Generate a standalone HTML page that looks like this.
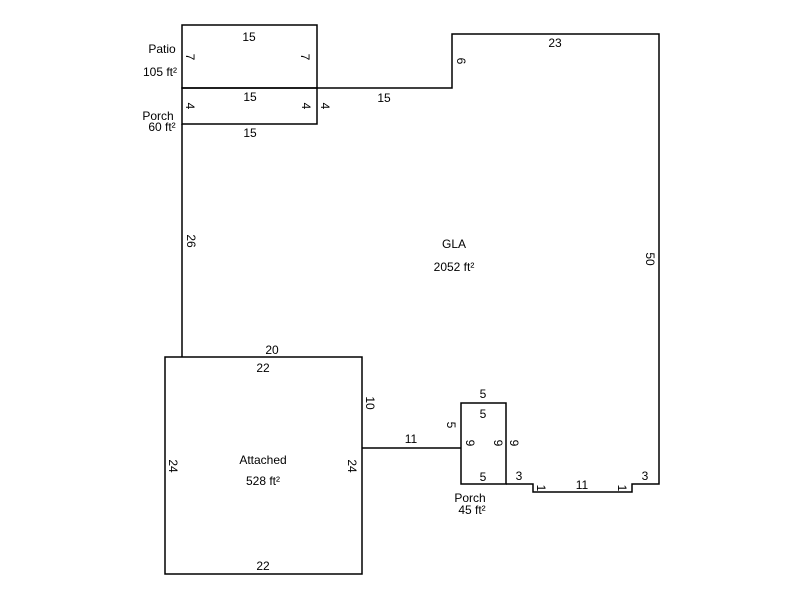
<!DOCTYPE html>
<html><head><style>body{margin:0;background:#fff}svg{display:block}text{font-family:"Liberation Sans",Arial,sans-serif;font-size:12px;fill:#000}</style></head>
<body>
<svg width="800" height="600" viewBox="0 0 800 600" xmlns="http://www.w3.org/2000/svg">
<g fill="none" stroke="#000" stroke-width="1.5">
<rect x="182" y="25" width="135" height="63"/>
<rect x="182" y="88" width="135" height="36"/>
<polyline points="317,88 452,88 452,34 659,34 659,484 632,484 632,492 533,492 533,484 506,484"/>
<line x1="182" y1="124" x2="182" y2="357"/>
<rect x="165" y="357" width="197" height="217"/>
<rect x="461" y="403" width="45" height="81"/>
<line x1="362" y1="448" x2="461" y2="448"/>
</g>
<g text-anchor="middle">
<text x="249" y="41">15</text>
<text x="250" y="101">15</text>
<text x="250" y="137">15</text>
<text x="384" y="102">15</text>
<text x="555" y="47">23</text>
<text x="454" y="248">GLA</text>
<text x="454" y="271">2052 ft²</text>
<text x="272" y="354">20</text>
<text x="263" y="372">22</text>
<text x="263" y="570">22</text>
<text x="263" y="464">Attached</text>
<text x="263" y="485">528 ft²</text>
<text x="411" y="443">11</text>
<text x="483" y="398">5</text>
<text x="483" y="418">5</text>
<text x="483" y="481">5</text>
<text x="519" y="480">3</text>
<text x="645" y="480">3</text>
<text x="582" y="489">11</text>
<text x="470" y="502">Porch</text>
<text x="472" y="514">45 ft²</text>
<text x="162" y="53">Patio</text>
<text x="160" y="76">105 ft²</text>
<text x="158" y="120">Porch</text>
<text x="162" y="131">60 ft²</text>
</g>
<g text-anchor="middle">
<text transform="translate(186,57) rotate(90)">7</text>
<text transform="translate(301,57) rotate(90)">7</text>
<text transform="translate(186,106) rotate(90)">4</text>
<text transform="translate(302,106) rotate(90)">4</text>
<text transform="translate(321,106) rotate(90)">4</text>
<text transform="translate(457,61) rotate(90)">6</text>
<text transform="translate(646,259) rotate(90)">50</text>
<text transform="translate(187,241) rotate(90)">26</text>
<text transform="translate(366,403) rotate(90)">10</text>
<text transform="translate(169,466) rotate(90)">24</text>
<text transform="translate(348,466) rotate(90)">24</text>
<text transform="translate(447,425) rotate(90)">5</text>
<text transform="translate(466,443) rotate(90)">9</text>
<text transform="translate(494,443) rotate(90)">9</text>
<text transform="translate(510,443) rotate(90)">9</text>
<text transform="translate(537,488) rotate(90)">1</text>
<text transform="translate(618,488) rotate(90)">1</text>
</g>
</svg>
</body></html>
